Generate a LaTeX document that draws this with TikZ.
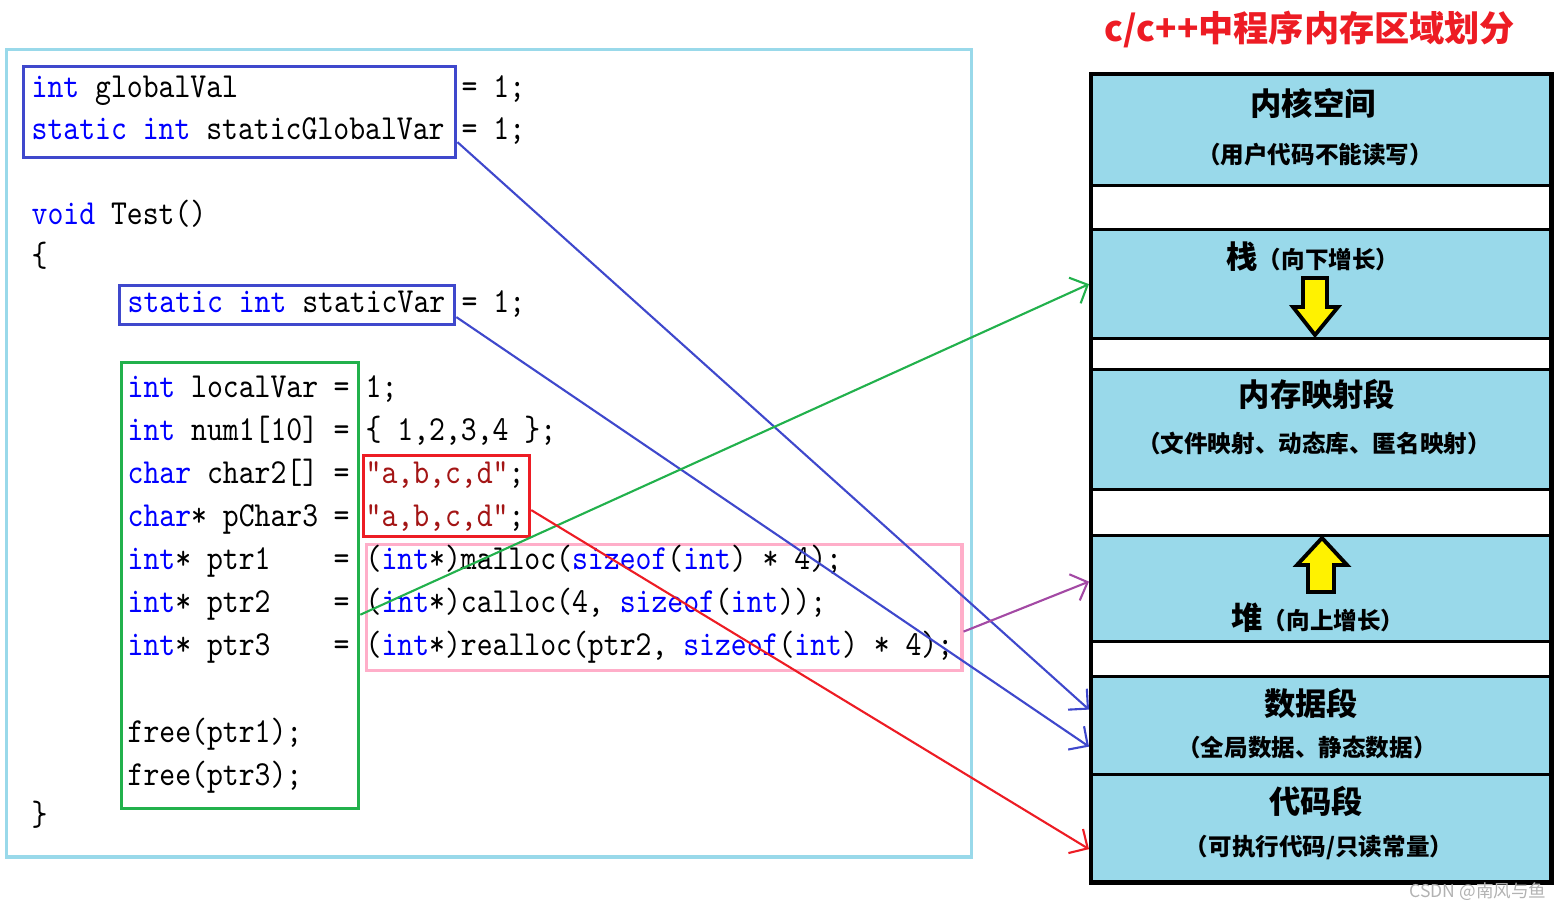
\documentclass[tikz,border=0pt]{standalone}
\usepackage{xcolor}
\usepackage{fontspec}
\usepackage{tikz}
\usetikzlibrary{arrows.meta, positioning}

\newfontfamily\codefont[FakeStretch=0.86]{Latin Modern Mono}
\newfontfamily\cjkfont{Noto Sans CJK SC}

\definecolor{kwblue}{RGB}{0,0,255}
\definecolor{strred}{RGB}{163,21,21}
\definecolor{boxblue}{RGB}{63,72,204}
\definecolor{boxgreen}{RGB}{34,177,76}
\definecolor{boxred}{RGB}{237,28,36}
\definecolor{boxpink}{RGB}{255,174,201}
\definecolor{linkpurple}{RGB}{163,73,164}
\definecolor{memblue}{RGB}{153,217,234}
\definecolor{growyellow}{RGB}{255,242,0}
\definecolor{titlered}{RGB}{237,28,36}

\newcommand{\kw}[1]{\textcolor{kwblue}{#1}}
\newcommand{\strlit}[1]{\textcolor{strred}{#1}}
\newcommand{\notesize}{\fontsize{6.7}{8}\selectfont}

\begin{document}
\begin{tikzpicture}[x=0.01cm, y=-0.01cm, >={Straight Barb[length=4pt,width=8pt]},
        code/.style={font=\codefont\fontsize{10}{12}\selectfont, inner sep=0pt, anchor=base west},
        hlbox/.style={draw=#1, line width=0.9pt, inner sep=0pt, anchor=north west},
        seg/.style={draw=black, line width=0.9pt, fill=memblue, minimum width=4.60cm, inner sep=0pt, anchor=north west},
        segtitle/.style={font=\cjkfont\bfseries\fontsize{8.9}{10}\selectfont, inner sep=0pt},
        segnote/.style={font=\cjkfont\bfseries\notesize, inner sep=0pt},
        link/.style={line width=0.6pt, ->},
        growarrow/.style={draw=black, line width=1.1pt, fill=growyellow, line join=miter}
    ]
        \useasboundingbox (0,0) rectangle (1561,910);

        % Code panel and marked regions
        \node[hlbox=memblue, minimum width=9.64cm, minimum height=8.07cm] (panel) at (5,48) {};
        \node[hlbox=boxblue, minimum width=4.32cm, minimum height=0.91cm] (gbox) at (22,65) {};
        \node[hlbox=boxblue, minimum width=3.35cm, minimum height=0.39cm] (sbox) at (118,284) {};
        \node[hlbox=boxgreen, minimum width=2.37cm, minimum height=4.46cm] (lbox) at (120,361) {};
        \node[hlbox=boxred, minimum width=1.66cm, minimum height=0.81cm] (rbox) at (362,454) {};
        \node[hlbox=boxpink, minimum width=5.95cm, minimum height=1.26cm] (hbox) at (365,543) {};

        % Code lines
        \node[code] (l1) at (31,98) {\kw{int} globalVal};
        \node[code] (l1v) at (461,98) {= 1;};
        \node[code] (l2) at (31,140) {\kw{static} \kw{int} staticGlobalVar};
        \node[code] (l2v) at (461,140) {= 1;};
        \node[code] (l3) at (31,225) {\kw{void} Test()};
        \node[code] (l4) at (31,267) {\{};
        \node[code] (l5) at (127,313) {\kw{static} \kw{int} staticVar};
        \node[code] (l5v) at (461,313) {= 1;};

        \node[code] (v1) at (127,398) {\kw{int} localVar};
        \node[code] (v2) at (127,441) {\kw{int} num1[10]};
        \node[code] (v3) at (127,484) {\kw{char} char2[]};
        \node[code] (v4) at (127,527) {\kw{char}* pChar3};
        \node[code] (v5) at (127,570) {\kw{int}* ptr1};
        \node[code] (v6) at (127,613) {\kw{int}* ptr2};
        \node[code] (v7) at (127,656) {\kw{int}* ptr3};
        \foreach \n/\y in {1/398,2/441,3/484,4/527,5/570,6/613,7/656}
            \node[code] (eq\n) at (333,\y) {=};

        \node[code] (r1) at (365,398) {1;};
        \node[code] (r2) at (365,441) {\{ 1,2,3,4 \};};
        \node[code] (r3) at (365,484) {\strlit{"a,b,c,d"};};
        \node[code] (r4) at (365,527) {\strlit{"a,b,c,d"};};
        \node[code] (r5) at (365,570) {(\kw{int}*)malloc(\kw{sizeof}(\kw{int}) * 4);};
        \node[code] (r6) at (365,613) {(\kw{int}*)calloc(4, \kw{sizeof}(\kw{int}));};
        \node[code] (r7) at (365,656) {(\kw{int}*)realloc(ptr2, \kw{sizeof}(\kw{int}) * 4);};

        \node[code] (f1) at (127,742) {free(ptr1);};
        \node[code] (f2) at (127,785) {free(ptr3);};
        \node[code] (l6) at (31,825) {\}};

        % Memory layout
        \node[font=\cjkfont\bfseries\fontsize{10}{12}\selectfont, text=titlered, inner sep=0pt] (title) at (1310,30) {c/c++中程序内存区域划分};
        \node[seg, minimum height=1.12cm] (kernel) at (1089,72) {};
        \node[seg, minimum height=1.09cm] (stack) at (1089,228) {};
        \node[seg, minimum height=1.20cm] (mmap) at (1089,368) {};
        \node[seg, minimum height=1.06cm] (heap) at (1089,534) {};
        \node[seg, minimum height=0.98cm] (data) at (1089,675) {};
        \node[seg, minimum height=1.07cm] (codeseg) at (1089,773) {};
        \node[draw, line width=1.2pt, minimum width=4.60cm, minimum height=8.08cm, inner sep=0pt, anchor=north west] (mem) at (1089,72) {};

        \node[segtitle] (kt) at (1313,103) {内核空间};
        \node[segnote] (kn) at (1315,155) {（用户代码不能读写）};
        \node[segtitle] (st) at (1313,257) {栈{\notesize（向下增长）}};
        \node[segtitle] (mt) at (1317,394) {内存映射段};
        \node[segnote] (mn) at (1314,443) {（文件映射、动态库、匿名映射）};
        \node[segtitle] (ht) at (1318,618) {堆{\notesize（向上增长）}};
        \node[segtitle] (dt) at (1311,703) {数据段};
        \node[segnote] (dn) at (1307,747) {（全局数据、静态数据）};
        \node[segtitle] (ct) at (1316,801) {代码段};
        \node[segnote] (cn) at (1319,847) {（可执行代码/只读常量）};

        % Growth directions
        \draw[growarrow] (1303,278) -- (1327,278) -- (1327,307) -- (1338,307) -- (1315,335) -- (1293,307) -- (1303,307) -- cycle;
        \draw[growarrow] (1322,538) -- (1347,565) -- (1334,565) -- (1334,592) -- (1308,592) -- (1308,565) -- (1297,565) -- cycle;

        \node[font=\cjkfont\fontsize{5}{6}\selectfont, text=gray!60, inner sep=0pt] (mark) at (1478,892) {CSDN @南风与鱼};

        % Connectors
        \draw[link, draw=boxblue] ([yshift=-0.3cm]gbox.east) -- ([yshift=0.16cm]data.west);
        \draw[link, draw=boxblue] ([yshift=-0.12cm]sbox.east) -- ([yshift=-0.21cm]data.west);
        \draw[link, draw=boxgreen] ([yshift=-0.29cm]lbox.east) -- (stack.west);
        \draw[link, draw=boxred] ([yshift=-0.14cm]rbox.east) -- ([yshift=-0.21cm]codeseg.west);
        \draw[link, draw=linkpurple] ([yshift=-0.24cm]hbox.east) -- ([yshift=0.07cm]heap.west);
    \end{tikzpicture}
\end{document}
